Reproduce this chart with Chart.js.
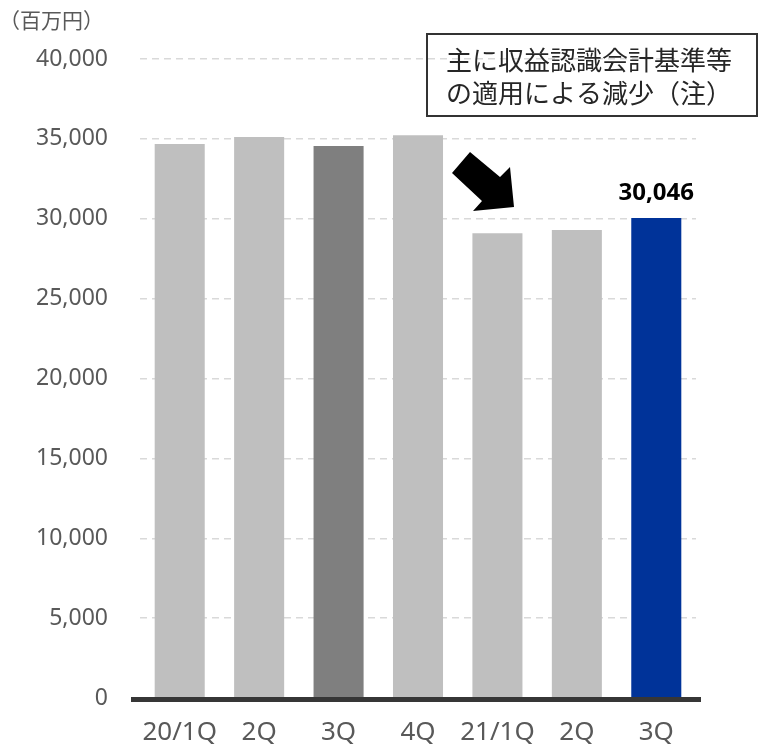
<!DOCTYPE html>
<html lang="ja">
<head>
<meta charset="utf-8">
<script src="https://cdn.jsdelivr.net/npm/chart.js@4/dist/chart.umd.min.js"></script>
<style>
  html, body { margin: 0; padding: 0; background: #fff; }
  #wrap { width: 759px; height: 744px; }
</style>
</head>
<body>
<div id="wrap"><canvas id="salesChart" width="759" height="744"></canvas></div>
<script>
// 四半期売上高（百万円）
const quarters = ["20/1Q", "2Q", "3Q", "4Q", "21/1Q", "2Q", "3Q"];
const sales = [34680, 35120, 34560, 35220, 29100, 29300, 30046];
const barColors = ["#bfbfbf", "#bfbfbf", "#7f7f7f", "#bfbfbf", "#bfbfbf", "#bfbfbf", "#003399"];
const yTicks = [0, 5000, 10000, 15000, 20000, 25000, 30000, 35000, 40000];
const unitLabel = "（百万円）";
const noteLines = ["主に収益認識会計基準等", "の適用による減少（注）"];

const cjkFont = '"Noto Sans CJK JP", "Noto Sans", sans-serif';
const numFont = '"Noto Sans", "Noto Sans CJK JP", sans-serif';

// 軸線・矢印・注記・最新値ラベルを描く
const decorations = {
  id: "decorations",
  afterDatasetsDraw(chart) {
    const ctx = chart.ctx;
    const area = chart.chartArea;
    const xs = chart.scales.x;
    const ys = chart.scales.y;
    ctx.save();

    // 太い横軸
    ctx.strokeStyle = "#363636";
    ctx.lineWidth = 5;
    ctx.beginPath();
    ctx.moveTo(area.left - 9, area.bottom + 1.5);
    ctx.lineTo(area.right + 5, area.bottom + 1.5);
    ctx.stroke();

    // 最新四半期の値
    const last = sales.length - 1;
    ctx.fillStyle = "#000";
    ctx.font = "bold 24px " + numFont;
    ctx.textAlign = "center";
    ctx.textBaseline = "alphabetic";
    ctx.fillText(sales[last].toLocaleString("en-US"),
      xs.getPixelForValue(last), ys.getPixelForValue(sales[last]) - 18);

    // 減少を示す矢印
    ctx.fillStyle = "#000";
    ctx.beginPath();
    ctx.moveTo(470, 152);
    ctx.lineTo(452, 173);
    ctx.lineTo(482, 201);
    ctx.lineTo(473, 211);
    ctx.lineTo(514, 207);
    ctx.lineTo(510, 167);
    ctx.lineTo(500, 177);
    ctx.closePath();
    ctx.fill();

    // 注記ボックス
    ctx.strokeStyle = "#333";
    ctx.lineWidth = 2;
    ctx.strokeRect(427, 34, 330, 82);
    ctx.fillStyle = "#262626";
    ctx.font = "26px " + cjkFont;
    ctx.textAlign = "left";
    ctx.textBaseline = "middle";
    ctx.fillText(noteLines[0], 446, 60);
    ctx.fillText(noteLines[1], 446, 93);

    // 単位
    ctx.fillStyle = "#595959";
    ctx.font = "21px " + cjkFont;
    ctx.fillText(unitLabel, -1, 20);

    ctx.restore();
  }
};

new Chart(document.getElementById("salesChart"), {
  type: "bar",
  data: {
    labels: quarters,
    datasets: [{
      data: sales,
      backgroundColor: barColors,
      borderWidth: 0,
      categoryPercentage: 1,
      barPercentage: 0.63
    }]
  },
  options: {
    responsive: false,
    animation: false,
    layout: { padding: { top: 59, right: 63, left: 0, bottom: 0 } },
    plugins: {
      legend: { display: false },
      tooltip: { enabled: false }
    },
    scales: {
      x: {
        grid: { display: false },
        border: { display: false },
        ticks: {
          color: "#595959",
          font: { family: numFont, size: 26 },
          padding: 11,
          maxRotation: 0
        },
        afterFit: s => { s.height = 46; }
      },
      y: {
        min: 0,
        max: 40000,
        afterBuildTicks: s => { s.ticks = yTicks.map(v => ({ value: v })); },
        grid: { color: "#d9d9d9", lineWidth: 1.5, drawTicks: false },
        border: { display: false, dash: [7, 5] },
        ticks: {
          color: "#595959",
          font: { family: numFont, size: 23 },
          padding: 32,
          callback: v => v.toLocaleString("en-US")
        },
        afterFit: s => { s.width = 140; }
      }
    }
  },
  plugins: [decorations]
});
</script>
</body>
</html>
